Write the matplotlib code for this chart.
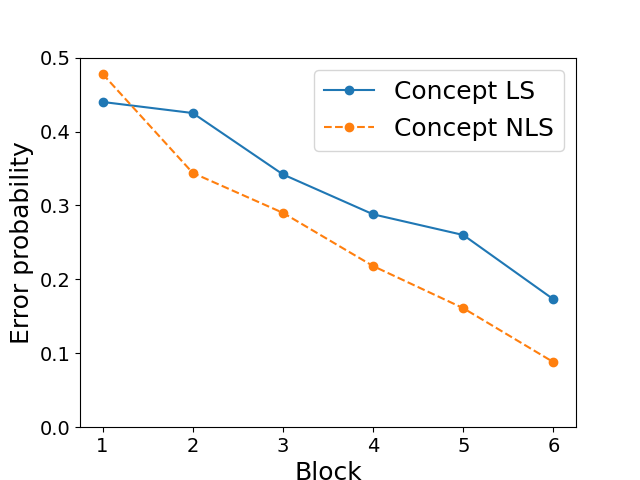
import numpy as np
import matplotlib
matplotlib.use("Agg")
import matplotlib.pyplot as plt

blocks = [1, 2, 3, 4, 5, 6]
concept_ls = [0.440, 0.425, 0.342, 0.288, 0.260, 0.173]
concept_nls = [0.478, 0.344, 0.290, 0.218, 0.161, 0.088]

fig, ax = plt.subplots(figsize=(6.4, 4.8), dpi=100)

ax.plot(blocks, concept_ls, "-o", label="Concept LS")
ax.plot(blocks, concept_nls, "--o", label="Concept NLS")

ax.set_ylim(0, 0.5)
ax.set_xticks(blocks)
ax.set_xlabel("Block", fontsize=18)
ax.set_ylabel("Error probability", fontsize=18)
ax.tick_params(labelsize=14)
ax.legend(fontsize=18)

plt.savefig("out.png")
